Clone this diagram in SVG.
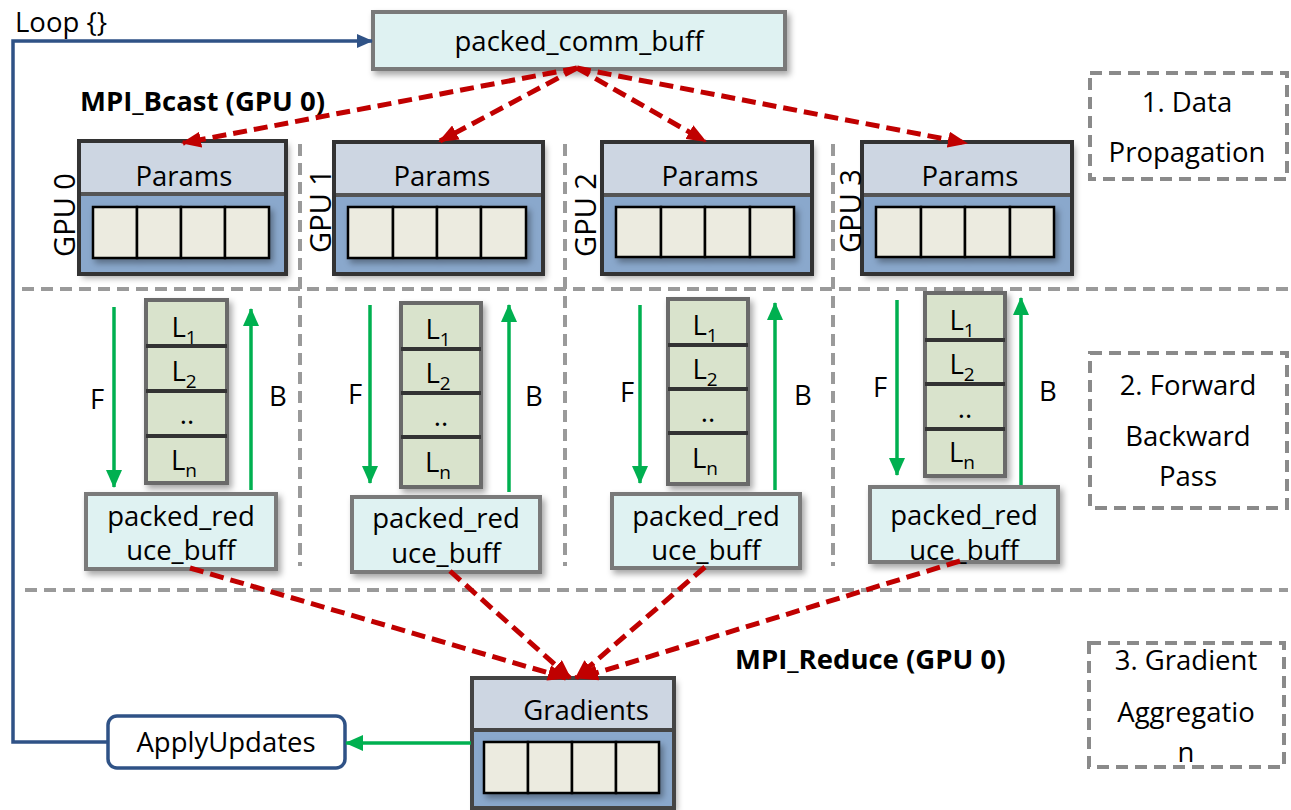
<svg xmlns="http://www.w3.org/2000/svg" width="1291" height="810" viewBox="0 0 1291 810">
<style>
text{font-family:"Open Sans","Noto Sans","Liberation Sans",sans-serif;fill:#000;}
.t{font-size:27.5px;text-anchor:middle;}
.g{font-size:29px;text-anchor:middle;}
.b{font-size:27.5px;font-weight:bold;}
.grid{stroke:#9a9a9a;stroke-width:4;stroke-dasharray:12 7;fill:none;}
.lbl{fill:#fff;stroke:#8a8a8a;stroke-width:4;stroke-dasharray:12 7;}
.red{stroke:#c00000;stroke-width:5;stroke-dasharray:14 7;fill:none;marker-end:url(#ar);}
.grn{stroke:#00b050;stroke-width:3.5;fill:none;marker-end:url(#ag);}
.buf{fill:#dff2f2;stroke:#7a7a7a;stroke-width:4;}
.hdr{fill:#cdd6e2;}
.low{fill:#8aa8cc;}
.out{fill:none;stroke:#333;stroke-width:4;}
.cell{fill:#ecebe0;stroke:#000;stroke-width:2.5;}
.stk{fill:#d9e3cc;stroke:#6a6a6a;stroke-width:4;}
.sep{stroke:#333;stroke-width:4;}
</style>
<defs>
<filter id="sh" x="-10%" y="-10%" width="130%" height="140%"><feDropShadow dx="3" dy="4" stdDeviation="3" flood-color="#000" flood-opacity="0.35"/></filter>
<marker id="ar" markerUnits="userSpaceOnUse" markerWidth="20" markerHeight="16" refX="18" refY="8" orient="auto"><path d="M0,0 L20,8 L0,16 z" fill="#c00000"/></marker>
<marker id="ag" markerUnits="userSpaceOnUse" markerWidth="18" markerHeight="16" refX="17" refY="8" orient="auto"><path d="M0,0 L18,8 L0,16 z" fill="#00b050"/></marker>
<marker id="ab" markerUnits="userSpaceOnUse" markerWidth="16" markerHeight="14" refX="15" refY="7" orient="auto"><path d="M0,0 L16,7 L0,14 z" fill="#2f5286"/></marker>
</defs>

<!-- grid separators -->
<g id="grid">
<line class="grid" x1="22" y1="289" x2="1288" y2="289"/>
<line class="grid" x1="25" y1="590" x2="1288" y2="590"/>
<line class="grid" x1="300" y1="144" x2="300" y2="566"/>
<line class="grid" x1="565" y1="144" x2="565" y2="566"/>
<line class="grid" x1="833" y1="144" x2="833" y2="566"/>
</g>

<!-- stage labels -->
<g id="stage1"><rect class="lbl" x="1090" y="73" width="197" height="106"/>
<text class="t" x="1187" y="112">1. Data</text><text class="t" x="1187" y="162">Propagation</text></g>
<g id="stage2"><rect class="lbl" x="1090" y="353" width="197" height="155"/>
<text class="t" x="1188" y="395">2. Forward</text><text class="t" x="1188" y="446">Backward</text><text class="t" x="1188" y="486">Pass</text></g>
<g id="stage3"><rect class="lbl" x="1089" y="643" width="195" height="124"/>
<text class="t" x="1186" y="670">3. Gradient</text><text class="t" x="1186" y="722">Aggregatio</text><text class="t" x="1186" y="762">n</text></g>

<!-- top buffer -->
<g id="packed_comm_buff"><rect class="buf" x="373" y="12" width="412" height="57" filter="url(#sh)"/>
<text class="t" x="579" y="51">packed_comm_buff</text></g>

<text class="b" x="80" y="111">MPI_Bcast (GPU 0)</text>
<text class="b" x="735" y="669">MPI_Reduce (GPU 0)</text>
<text style="font-size:27.5px" x="15" y="32">Loop {}</text>

<!-- GPU param blocks -->
<g id="gpu0">
<g filter="url(#sh)"><rect class="hdr" x="79" y="141" width="207" height="53"/><rect class="low" x="79" y="194" width="207" height="80"/></g>
<line x1="79" y1="194" x2="286" y2="194" stroke="#555" stroke-width="4"/>
<rect class="out" x="79" y="141" width="207" height="133"/>
<g filter="url(#sh)"><rect class="cell" x="93" y="207" width="44" height="51"/><rect class="cell" x="137" y="207" width="44" height="51"/><rect class="cell" x="181" y="207" width="44" height="51"/><rect class="cell" x="225" y="207" width="44" height="51"/></g>
<text class="t" x="184" y="186">Params</text>
<text class="g" transform="translate(75,215) rotate(-90)">GPU 0</text>
</g>
<g id="gpu1">
<g filter="url(#sh)"><rect class="hdr" x="334" y="142" width="209" height="53"/><rect class="low" x="334" y="195" width="209" height="79"/></g>
<line x1="334" y1="195" x2="543" y2="195" stroke="#555" stroke-width="4"/>
<rect class="out" x="334" y="142" width="209" height="132"/>
<g filter="url(#sh)"><rect class="cell" x="348" y="207" width="45" height="51"/><rect class="cell" x="393" y="207" width="44" height="51"/><rect class="cell" x="437" y="207" width="44" height="51"/><rect class="cell" x="481" y="207" width="45" height="51"/></g>
<text class="t" x="442" y="186">Params</text>
<text class="g" transform="translate(331,211) rotate(-90)">GPU 1</text>
</g>
<g id="gpu2">
<g filter="url(#sh)"><rect class="hdr" x="602" y="142" width="210" height="53"/><rect class="low" x="602" y="195" width="210" height="79"/></g>
<line x1="602" y1="195" x2="812" y2="195" stroke="#555" stroke-width="4"/>
<rect class="out" x="602" y="142" width="210" height="132"/>
<g filter="url(#sh)"><rect class="cell" x="616" y="207" width="45" height="50"/><rect class="cell" x="661" y="207" width="44" height="50"/><rect class="cell" x="705" y="207" width="45" height="50"/><rect class="cell" x="750" y="207" width="44" height="50"/></g>
<text class="t" x="710" y="186">Params</text>
<text class="g" transform="translate(596,215) rotate(-90)">GPU 2</text>
</g>
<g id="gpu3">
<g filter="url(#sh)"><rect class="hdr" x="862" y="142" width="210" height="53"/><rect class="low" x="862" y="195" width="210" height="79"/></g>
<line x1="862" y1="195" x2="1072" y2="195" stroke="#555" stroke-width="4"/>
<rect class="out" x="862" y="142" width="210" height="132"/>
<g filter="url(#sh)"><rect class="cell" x="876" y="207" width="45" height="50"/><rect class="cell" x="921" y="207" width="44" height="50"/><rect class="cell" x="965" y="207" width="45" height="50"/><rect class="cell" x="1010" y="207" width="44" height="50"/></g>
<text class="t" x="970" y="186">Params</text>
<text class="g" transform="translate(861,211) rotate(-90)">GPU 3</text>
</g>

<!-- layer stacks -->
<g id="layers0">
<rect class="stk" x="146" y="300" width="81" height="183" filter="url(#sh)"/>
<line class="sep" x1="146" y1="346" x2="227" y2="346"/><line class="sep" x1="146" y1="391" x2="227" y2="391"/><line class="sep" x1="146" y1="436" x2="227" y2="436"/>
<text class="t" x="184" y="337">L<tspan font-size="19" dy="7">1</tspan></text>
<text class="t" x="184" y="381">L<tspan font-size="19" dy="7">2</tspan></text>
<text class="t" x="187" y="424">..</text>
<text class="t" x="184" y="470">L<tspan font-size="19" dy="7">n</tspan></text>
</g>
<g id="layers1">
<rect class="stk" x="401" y="303" width="80" height="184" filter="url(#sh)"/>
<line class="sep" x1="401" y1="349" x2="481" y2="349"/><line class="sep" x1="401" y1="393" x2="481" y2="393"/><line class="sep" x1="401" y1="437" x2="481" y2="437"/>
<text class="t" x="438" y="339">L<tspan font-size="19" dy="7">1</tspan></text>
<text class="t" x="438" y="383">L<tspan font-size="19" dy="7">2</tspan></text>
<text class="t" x="441" y="426">..</text>
<text class="t" x="438" y="472">L<tspan font-size="19" dy="7">n</tspan></text>
</g>
<g id="layers2">
<rect class="stk" x="668" y="299" width="80" height="185" filter="url(#sh)"/>
<line class="sep" x1="668" y1="345" x2="748" y2="345"/><line class="sep" x1="668" y1="389" x2="748" y2="389"/><line class="sep" x1="668" y1="433" x2="748" y2="433"/>
<text class="t" x="705" y="335">L<tspan font-size="19" dy="7">1</tspan></text>
<text class="t" x="705" y="379">L<tspan font-size="19" dy="7">2</tspan></text>
<text class="t" x="708" y="422">..</text>
<text class="t" x="705" y="468">L<tspan font-size="19" dy="7">n</tspan></text>
</g>
<g id="layers3">
<rect class="stk" x="925" y="293" width="80" height="183" filter="url(#sh)"/>
<line class="sep" x1="925" y1="340" x2="1005" y2="340"/><line class="sep" x1="925" y1="384" x2="1005" y2="384"/><line class="sep" x1="925" y1="429" x2="1005" y2="429"/>
<text class="t" x="962" y="330">L<tspan font-size="19" dy="7">1</tspan></text>
<text class="t" x="962" y="374">L<tspan font-size="19" dy="7">2</tspan></text>
<text class="t" x="965" y="418">..</text>
<text class="t" x="962" y="462">L<tspan font-size="19" dy="7">n</tspan></text>
</g>

<!-- F/B labels -->
<g id="fb">
<text class="t" x="97" y="409">F</text><text class="t" x="278" y="406">B</text>
<text class="t" x="355" y="404">F</text><text class="t" x="534" y="406">B</text>
<text class="t" x="627" y="402">F</text><text class="t" x="803" y="405">B</text>
<text class="t" x="880" y="397">F</text><text class="t" x="1048" y="401">B</text>
</g>

<!-- reduce buffers -->
<g id="red0"><rect class="buf" x="86" y="494" width="190" height="75" filter="url(#sh)"/>
<text class="t" x="181" y="526">packed_red</text><text class="t" x="181" y="560">uce_buff</text></g>
<g id="red1"><rect class="buf" x="352" y="497" width="188" height="75" filter="url(#sh)"/>
<text class="t" x="446" y="528">packed_red</text><text class="t" x="446" y="563">uce_buff</text></g>
<g id="red2"><rect class="buf" x="612" y="494" width="188" height="74" filter="url(#sh)"/>
<text class="t" x="706" y="526">packed_red</text><text class="t" x="706" y="560">uce_buff</text></g>
<g id="red3"><rect class="buf" x="870" y="487" width="188" height="75" filter="url(#sh)"/>
<text class="t" x="964" y="525">packed_red</text><text class="t" x="964" y="560">uce_buff</text></g>

<!-- gradients -->
<g id="gradients">
<g filter="url(#sh)"><rect class="hdr" x="472" y="678" width="202" height="52"/><rect class="low" x="472" y="730" width="202" height="78"/></g>
<line x1="472" y1="730" x2="674" y2="730" stroke="#444" stroke-width="4"/>
<rect fill="none" stroke="#444" stroke-width="4" x="472" y="678" width="202" height="130"/>
<g filter="url(#sh)"><rect class="cell" x="484" y="742" width="44" height="51"/><rect class="cell" x="528" y="742" width="44" height="51"/><rect class="cell" x="572" y="742" width="44" height="51"/><rect class="cell" x="616" y="742" width="43" height="51"/></g>
<text class="t" x="586" y="720">Gradients</text>
</g>

<g id="applyupdates"><rect x="108" y="716" width="237" height="52" rx="9" fill="#fff" stroke="#2f5286" stroke-width="3.5"/>
<text class="t" x="226" y="752">ApplyUpdates</text></g>

<!-- connectors -->
<g id="connectors">
<path d="M108,742 H13 V41 H372" fill="none" stroke="#2f5286" stroke-width="3.5" marker-end="url(#ab)"/>
<line class="red" x1="577" y1="68" x2="183" y2="143"/>
<line class="red" x1="577" y1="68" x2="440" y2="141"/>
<line class="red" x1="577" y1="68" x2="705" y2="141"/>
<line class="red" x1="577" y1="68" x2="966" y2="143"/>
<line class="red" x1="190" y1="568" x2="566" y2="678"/>
<line class="red" x1="450" y1="571" x2="570" y2="678"/>
<line class="red" x1="705" y1="567" x2="576" y2="678"/>
<line class="red" x1="960" y1="561" x2="580" y2="678"/>
<line class="grn" x1="114" y1="307" x2="114" y2="487"/>
<line class="grn" x1="251" y1="490" x2="251" y2="309"/>
<line class="grn" x1="370" y1="305" x2="370" y2="483"/>
<line class="grn" x1="509" y1="492" x2="509" y2="305"/>
<line class="grn" x1="640" y1="305" x2="640" y2="483"/>
<line class="grn" x1="775" y1="490" x2="775" y2="303"/>
<line class="grn" x1="897" y1="300" x2="897" y2="475"/>
<line class="grn" x1="1021" y1="485" x2="1021" y2="298"/>
<line class="grn" x1="471" y1="743" x2="346" y2="743"/>
</g>
</svg>
